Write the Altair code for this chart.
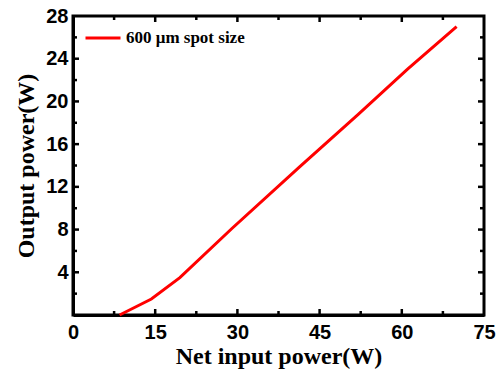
import altair as alt
import pandas as pd

# data
net_input = [8.5, 14.3, 19.5, 29.0, 41.4, 52.1, 61.0, 70.0]
output_power = [0.0, 1.5, 3.5, 8.1, 13.9, 18.8, 23.0, 27.0]
series_name = "600 \u03bcm spot size"

x_labels = [0, 15, 30, 45, 60, 75]
y_labels = [4, 8, 12, 16, 20, 24, 28]
x_major = [15, 30, 45, 60]
x_minor = [7.5, 22.5, 37.5, 52.5, 67.5]
y_major = [4, 8, 12, 16, 20, 24]
y_minor = [2, 6, 10, 14, 18, 22, 26]

W, H = 411, 299

df = pd.DataFrame({"net": net_input, "out": output_power, "series": [series_name] * len(net_input)})
xs = alt.Scale(domain=[0, 75], nice=False)
ys = alt.Scale(domain=[0, 28], nice=False)

line = alt.Chart(df).mark_line(strokeWidth=3).encode(
    x=alt.X("net:Q", scale=xs, axis=alt.Axis(
        values=x_labels, ticks=False, grid=False, domainColor="black", domainWidth=3,
        labelFont="Liberation Sans", labelFontWeight="bold", labelFontSize=20, labelColor="black",
        labelPadding=7, labelFlush=False,
        title="Net input power(W)", titleFont="Liberation Serif", titleFontWeight="bold",
        titleFontSize=24, titleColor="black", titlePadding=2)),
    y=alt.Y("out:Q", scale=ys, axis=alt.Axis(
        values=y_labels, ticks=False, grid=False, domainColor="black", domainWidth=3,
        labelFont="Liberation Sans", labelFontWeight="bold", labelFontSize=20, labelColor="black",
        labelPadding=5, labelFlush=False,
        title="Output power(W)", titleFont="Liberation Serif", titleFontWeight="bold",
        titleFontSize=24, titleColor="black", titlePadding=7)),
    color=alt.Color("series:N", scale=alt.Scale(range=["#ff0000"]), legend=alt.Legend(
        title=None, orient="none", legendX=11, legendY=3, padding=0,
        symbolType="stroke", symbolSize=1225, symbolStrokeWidth=3,
        labelFont="Liberation Serif", labelFontWeight="bold", labelFontSize=17,
        labelColor="black", labelOffset=4)),
)

def xticks(vals, length):
    d = pd.DataFrame({"v": vals})
    bottom = alt.Chart(d).mark_rule(color="black", strokeWidth=2.5).encode(
        x=alt.X("v:Q", scale=xs), y=alt.value(H), y2=alt.value(H - length))
    top = alt.Chart(d).mark_rule(color="black", strokeWidth=2.5).encode(
        x=alt.X("v:Q", scale=xs), y=alt.value(0), y2=alt.value(length))
    return [bottom, top]

def yticks(vals, length):
    d = pd.DataFrame({"v": vals})
    left = alt.Chart(d).mark_rule(color="black", strokeWidth=2.5).encode(
        y=alt.Y("v:Q", scale=ys), x=alt.value(0), x2=alt.value(length))
    right = alt.Chart(d).mark_rule(color="black", strokeWidth=2.5).encode(
        y=alt.Y("v:Q", scale=ys), x=alt.value(W), x2=alt.value(W - length))
    return [left, right]

layers = [line] + xticks(x_major, 6) + xticks(x_minor, 4) + yticks(y_major, 6) + yticks(y_minor, 4)

chart = alt.layer(*layers).properties(
    width=W, height=H,
    autosize=alt.AutoSizeParams(type="none"),
    padding={"left": 73, "top": 16, "right": 14, "bottom": 57},
    background="white",
).configure_view(stroke="black", strokeWidth=3)

chart.save("out.html", embed_options={"renderer": "svg", "actions": False})
